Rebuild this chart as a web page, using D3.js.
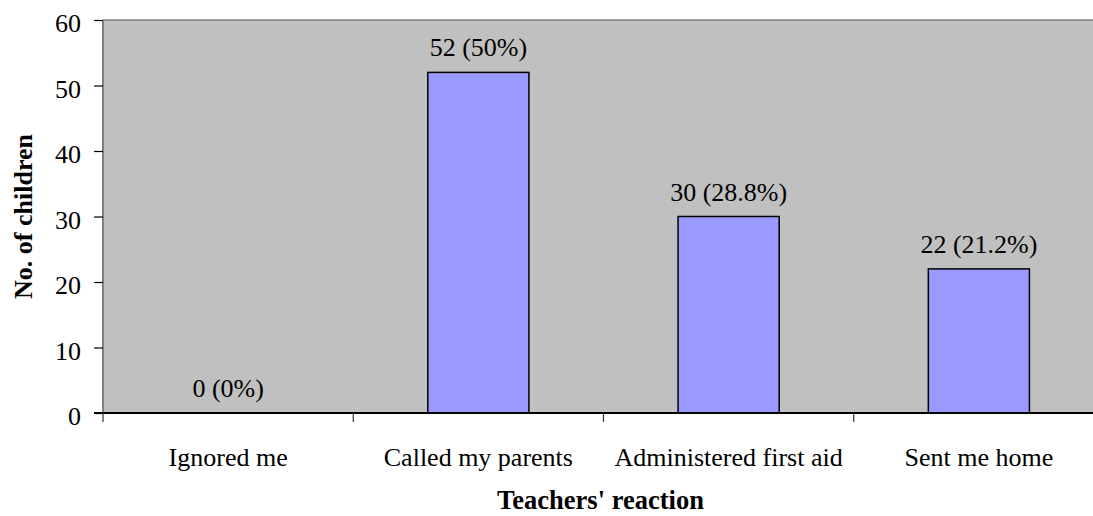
<!DOCTYPE html>
<html>
<head>
<meta charset="utf-8">
<script src="https://cdn.jsdelivr.net/npm/d3@7"></script>
<style>
  html, body { margin: 0; padding: 0; background: #fff; }
  svg { display: block; }
  text { font-family: "Liberation Serif", "Times New Roman", serif; fill: #000; }
</style>
</head>
<body>
<svg id="chart" width="1093" height="516"></svg>
<script>
const categories = ["Ignored me", "Called my parents", "Administered first aid", "Sent me home"];
const values = [0, 52, 30, 22];
const valueLabels = ["0 (0%)", "52 (50%)", "30 (28.8%)", "22 (21.2%)"];
const yTicks = [0, 10, 20, 30, 40, 50, 60];

(function () {
const svg = d3.select("#chart");
const pL = 103, pR = 1104, pT = 20, pB = 413;

const x = d3.scaleBand().domain(categories).range([pL, pR])
  .paddingInner(0.596).paddingOuter(0.298);
const y = d3.scaleLinear().domain([0, 60]).range([pB, pT]);

// plot area
svg.append("rect").attr("x", pL).attr("y", pT)
  .attr("width", pR - pL).attr("height", pB - pT)
  .attr("fill", "#c0c0c0");
svg.append("line").attr("x1", pL).attr("x2", pR).attr("y1", pT).attr("y2", pT)
  .attr("stroke", "#808080").attr("stroke-width", 1.5);

// bars
svg.selectAll("rect.bar").data(values).enter().append("rect")
  .attr("class", "bar")
  .attr("x", (d, i) => x(categories[i]))
  .attr("y", d => y(d))
  .attr("width", x.bandwidth())
  .attr("height", d => y(0) - y(d))
  .attr("fill", "#9999ff")
  .attr("stroke", "#000")
  .attr("stroke-width", 1.5)
  .style("display", d => d > 0 ? null : "none");

// value labels
svg.selectAll("text.val").data(values).enter().append("text")
  .attr("class", "val")
  .attr("x", (d, i) => x(categories[i]) + x.bandwidth() / 2)
  .attr("y", d => y(d) - 16)
  .attr("text-anchor", "middle")
  .attr("font-size", 26)
  .text((d, i) => valueLabels[i]);

// left axis
svg.append("line").attr("x1", pL).attr("x2", pL).attr("y1", pT).attr("y2", pB)
  .attr("stroke", "#808080").attr("stroke-width", 2);
const yAxis = d3.axisLeft(y).tickValues(yTicks).tickSize(9).tickPadding(13);
const gy = svg.append("g").attr("transform", `translate(${pL},0)`).call(yAxis);
gy.select(".domain").remove();
gy.selectAll(".tick line").attr("stroke", "#000").attr("stroke-width", 1.2);
gy.selectAll(".tick text")
  .attr("font-family", "Liberation Serif, Times New Roman, serif")
  .attr("font-size", 26).attr("fill", "#000")
  .attr("dy", "0.46em");

// bottom axis line
svg.append("line").attr("x1", pL - 9).attr("x2", pR).attr("y1", pB).attr("y2", pB)
  .attr("stroke", "#000").attr("stroke-width", 2);

// category ticks at band boundaries
const step = x.step();
svg.selectAll("line.xt").data(categories.concat(["end"])).enter().append("line")
  .attr("class", "xt")
  .attr("x1", (d, i) => pL + i * step)
  .attr("x2", (d, i) => pL + i * step)
  .attr("y1", pB).attr("y2", pB + 9)
  .attr("stroke", "#333").attr("stroke-width", 1.2);

// category labels
svg.selectAll("text.cat").data(categories).enter().append("text")
  .attr("class", "cat")
  .attr("x", d => x(d) + x.bandwidth() / 2)
  .attr("y", 466)
  .attr("text-anchor", "middle")
  .attr("font-size", 26)
  .text(d => d);

// axis titles
svg.append("text")
  .attr("x", (pL + pR) / 2 - 3).attr("y", 509)
  .attr("text-anchor", "middle").attr("font-size", 26.5).attr("font-weight", "bold")
  .text("Teachers' reaction");

svg.append("text")
  .attr("transform", `translate(32,${(pT + pB) / 2}) rotate(-90)`)
  .attr("text-anchor", "middle").attr("font-size", 26).attr("font-weight", "bold")
  .text("No. of children");
})();
</script>
</body>
</html>
